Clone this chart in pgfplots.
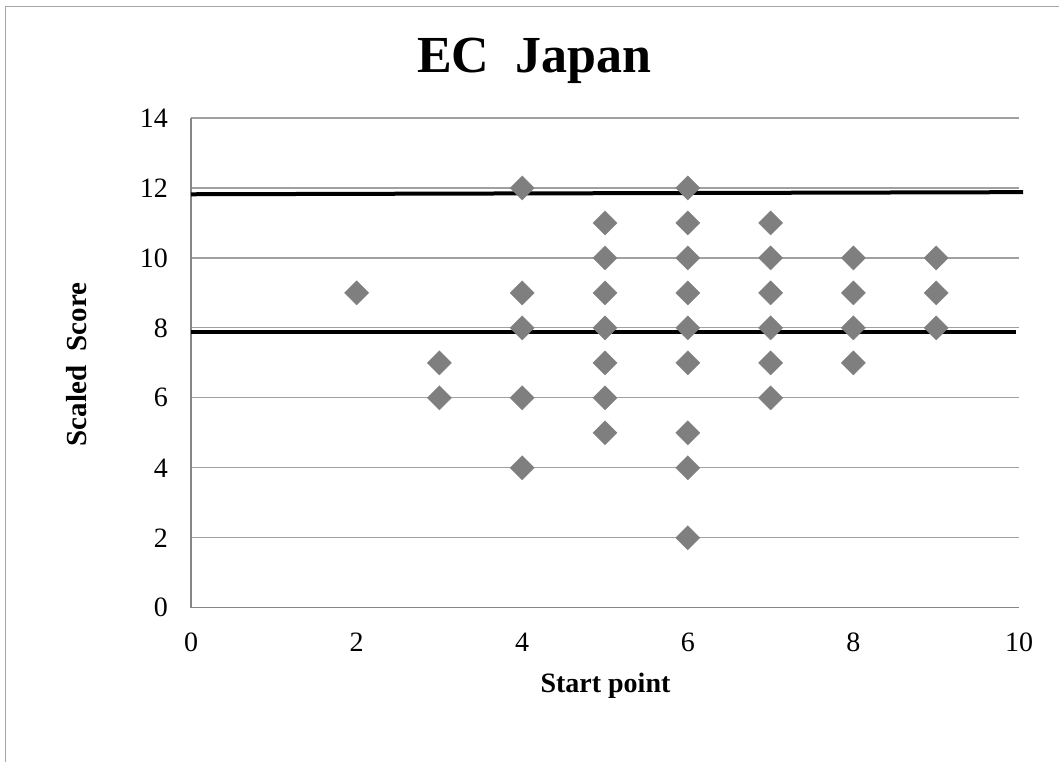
\documentclass[border=0pt]{standalone}
\usepackage{fontspec}
\setmainfont{Liberation Serif}
\usepackage{pgfplots}
\pgfplotsset{compat=1.18}
\definecolor{markgray}{HTML}{7F7F7F}
\definecolor{axisgray}{HTML}{868686}
\definecolor{gridgray}{HTML}{A0A0A0}
\definecolor{framegray}{HTML}{A6A6A6}
\begin{document}
\begin{tikzpicture}
\begin{axis}[
  at={(95.5pt,-303.85pt)}, anchor=south west,
  scale only axis, width=414pt, height=244.85pt,
  xmin=0, xmax=10, ymin=0, ymax=14,
  xtick={0,2,...,10}, ytick={0,2,...,14},
  axis lines*=left,
  ymajorgrids,
  grid style={gridgray, line width=0.6pt},
  axis line style={axisgray, line width=0.7pt},
  major tick length=0pt,
  tick label style={font=\fontsize{14}{16}\selectfont},
  /pgf/number format/assume math mode=true,
  yticklabel style={xshift=-8pt},
  xticklabel style={yshift=-9pt},
  clip=false,
  title={EC\ \ Japan},
  title style={font=\fontsize{26}{30}\selectfont\bfseries, at={(axis description cs:0.4143,1.0694)}, anchor=base},
  xlabel={Start point},
  xlabel style={font=\fontsize{14}{16}\selectfont\bfseries, at={(axis description cs:0.5006,-0.1722)}, anchor=base},
  ylabel={Scaled\ \ Score},
  ylabel style={font=\fontsize{14.5}{16}\selectfont\bfseries, at={(axis description cs:-0.1377,0.4966)}, anchor=center},
]
\addplot[markgray, only marks, mark=square*, mark size=4.3pt,
  mark options={rotate=45, fill=markgray, draw=markgray, line width=0.1pt}]
coordinates {
 (2,9)
 (3,7) (3,6)
 (4,12) (4,9) (4,8) (4,6) (4,4)
 (5,11) (5,10) (5,9) (5,8) (5,7) (5,6) (5,5)
 (6,12) (6,11) (6,10) (6,9) (6,8) (6,7) (6,5) (6,4) (6,2)
 (7,11) (7,10) (7,9) (7,8) (7,7) (7,6)
 (8,10) (8,9) (8,8) (8,7)
 (9,10) (9,9) (9,8)
};
\addplot[black, line width=2pt, no marks] coordinates {(0,11.82) (10.05,11.88)};
\addplot[black, line width=2pt, no marks] coordinates {(0,7.89) (9.96,7.89)};
\end{axis}
\draw[framegray, line width=0.7pt] (2.85pt,-420pt) -- (2.85pt,-3.25pt) -- (560pt,-3.25pt);
\pgfresetboundingbox
\useasboundingbox (0,0) rectangle (529.5pt,-380.5pt);
\end{tikzpicture}
\end{document}
